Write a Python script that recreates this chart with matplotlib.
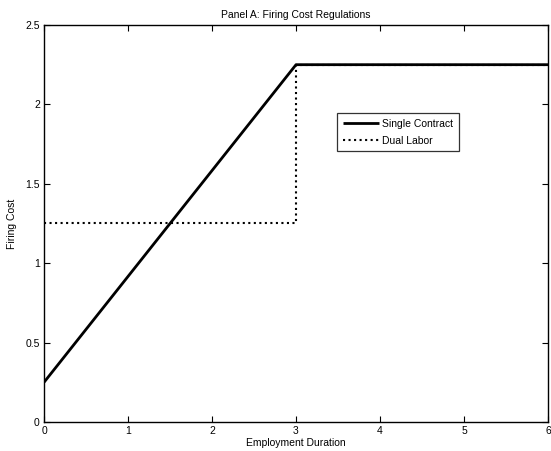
import matplotlib
matplotlib.use('Agg')
import matplotlib.pyplot as plt

plt.rcParams['font.family'] = ['Liberation Sans', 'DejaVu Sans']

# employment duration and firing cost for the two regimes
single_x = [0, 3, 6]
single_y = [0.25, 2.25, 2.25]
dual_x = [0, 3, 3, 6]
dual_y = [1.25, 1.25, 2.25, 2.25]

fig = plt.figure(figsize=(5.51, 4.51), dpi=100)
ax = fig.add_axes([0.0799, 0.0643, 0.9147, 0.8803])

ax.plot(single_x, single_y, color='black', lw=2.0, solid_capstyle='butt', label='Single Contract')
ax.plot(dual_x, dual_y, color='black', lw=1.5, ls=':', label='Dual Labor')

ax.set_xlim(0, 6)
ax.set_ylim(0, 2.5)
ax.set_xticks([0, 1, 2, 3, 4, 5, 6])
ax.set_yticks([0, 0.5, 1, 1.5, 2, 2.5])
ax.set_xticklabels(['0', '1', '2', '3', '4', '5', '6'])
ax.set_yticklabels(['0', '0.5', '1', '1.5', '2', '2.5'])
ax.tick_params(direction='in', length=4, width=0.8, labelsize=7.5, top=True, right=True, pad=3)
for s in ax.spines.values():
    s.set_linewidth(1.0)

ax.set_title('Panel A: Firing Cost Regulations', fontsize=7.5, pad=5)
ax.set_xlabel('Employment Duration', fontsize=7.5, labelpad=1)
ax.set_ylabel('Firing Cost', fontsize=7.5, labelpad=6)

leg = ax.legend(loc='upper left', bbox_to_anchor=(0.581, 0.778), fontsize=7.5,
                frameon=True, fancybox=False, edgecolor='black', handlelength=3.5,
                borderaxespad=0, borderpad=0.55, labelspacing=0.65, handletextpad=0.3)
leg.get_frame().set_linewidth(0.9)

fig.savefig('out.png', dpi=100)
